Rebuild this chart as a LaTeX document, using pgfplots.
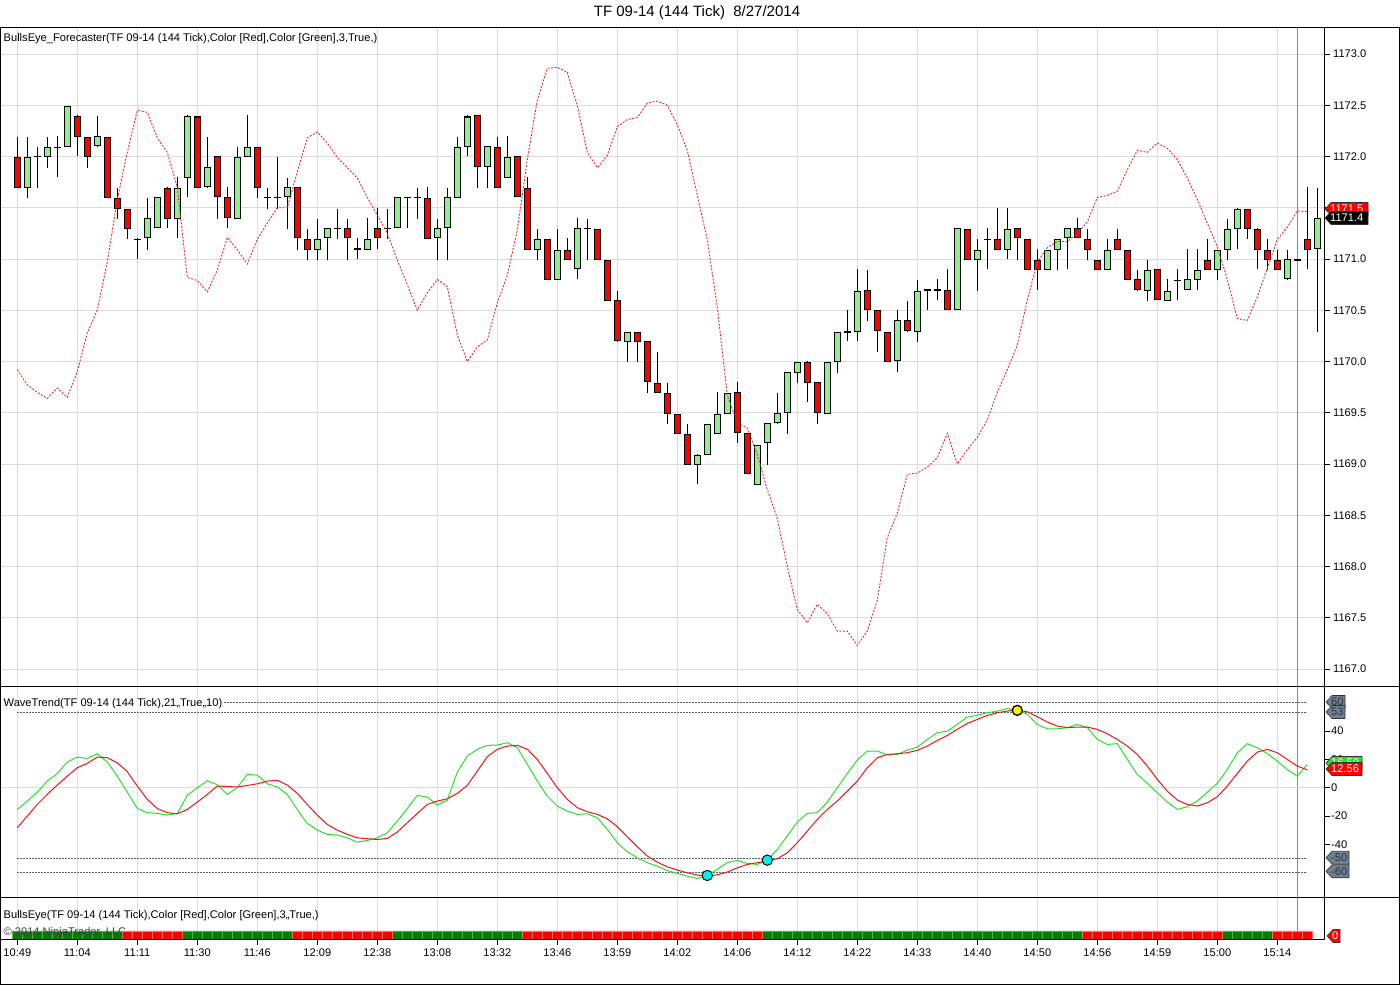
\documentclass[border=0pt]{standalone}
\usepackage{pgfplots}
\pgfplotsset{compat=1.18}
\usepackage{pgfplotstable}
\usepackage{fontspec}
\setmainfont{Liberation Sans}
\definecolor{cUp}{RGB}{144,238,144}
\definecolor{cDn}{RGB}{255,0,0}
\definecolor{gridc}{RGB}{220,220,220}
\definecolor{wtGreen}{RGB}{40,225,40}
\definecolor{wtRed}{RGB}{240,20,20}
\definecolor{fcRed}{RGB}{235,40,40}
\definecolor{lvl}{RGB}{90,95,105}
\definecolor{tagGray}{RGB}{112,128,144}
\definecolor{tagText}{RGB}{40,48,58}
\definecolor{bbGreen}{RGB}{0,128,0}
\definecolor{dotCyan}{RGB}{0,238,238}
\newcommand\sm{\fontsize{11.1}{13}\selectfont}
\newcommand{\tagshape}[6]{%
  \filldraw[fill=#4, draw=black!80, line width=0.6pt] (#1,#3) -- (#1+6,#3+6.5) -- (#2,#3+6.5) -- (#2,#3-6.5) -- (#1+6,#3-6.5) -- cycle;
  \node[anchor=west, inner sep=0pt, text=#5, font=\sm] at (#1+5,#3) {#6};}

\pgfplotstableread{
i o h l c
0 1172.0 1172.2 1171.7 1171.7
1 1171.7 1172.2 1171.6 1172.0
2 1172.0 1172.1 1171.7 1172.0
3 1172.0 1172.2 1171.9 1172.1
4 1172.1 1172.2 1171.8 1172.1
5 1172.1 1172.5 1172.1 1172.5
6 1172.4 1172.4 1172.0 1172.2
7 1172.2 1172.2 1171.9 1172.0
8 1172.1 1172.4 1172.1 1172.2
9 1172.2 1172.2 1171.6 1171.6
10 1171.6 1171.7 1171.4 1171.5
11 1171.5 1171.5 1171.2 1171.3
12 1171.2 1171.2 1171.0 1171.2
13 1171.2 1171.6 1171.1 1171.4
14 1171.3 1171.6 1171.3 1171.6
15 1171.7 1171.7 1171.3 1171.4
16 1171.4 1171.8 1171.2 1171.7
17 1171.8 1172.4 1171.6 1172.4
18 1172.4 1172.4 1171.7 1171.7
19 1171.7 1172.2 1171.7 1171.9
20 1172.0 1172.0 1171.4 1171.6
21 1171.6 1171.7 1171.3 1171.4
22 1171.4 1172.1 1171.4 1172.0
23 1172.0 1172.4 1172.0 1172.1
24 1172.1 1172.1 1171.6 1171.7
25 1171.6 1171.7 1171.5 1171.6
26 1171.6 1172.0 1171.5 1171.6
27 1171.6 1171.8 1171.3 1171.7
28 1171.7 1171.7 1171.1 1171.2
29 1171.2 1171.3 1171.0 1171.1
30 1171.1 1171.4 1171.0 1171.2
31 1171.2 1171.3 1171.0 1171.3
32 1171.3 1171.5 1171.2 1171.3
33 1171.3 1171.4 1171.0 1171.2
34 1171.1 1171.2 1171.0 1171.1
35 1171.1 1171.4 1171.1 1171.2
36 1171.3 1171.5 1171.1 1171.2
37 1171.3 1171.5 1171.2 1171.3
38 1171.3 1171.6 1171.3 1171.6
39 1171.6 1171.6 1171.3 1171.6
40 1171.6 1171.7 1171.4 1171.6
41 1171.6 1171.7 1171.2 1171.2
42 1171.2 1171.4 1171.0 1171.3
43 1171.3 1171.7 1171.0 1171.6
44 1171.6 1172.2 1171.6 1172.1
45 1172.1 1172.4 1172.0 1172.4
46 1172.4 1172.4 1171.7 1171.9
47 1171.9 1172.1 1171.7 1172.1
48 1172.1 1172.2 1171.7 1171.7
49 1171.8 1172.2 1171.8 1172.0
50 1172.0 1172.0 1171.6 1171.6
51 1171.7 1171.8 1171.1 1171.1
52 1171.1 1171.3 1171.0 1171.2
53 1171.2 1171.2 1170.8 1170.8
54 1170.8 1171.3 1170.8 1171.1
55 1171.1 1171.2 1171.0 1171.0
56 1170.9 1171.4 1170.8 1171.3
57 1171.3 1171.4 1171.0 1171.3
58 1171.3 1171.3 1171.0 1171.0
59 1171.0 1171.0 1170.6 1170.6
60 1170.6 1170.7 1170.2 1170.2
61 1170.2 1170.3 1170.0 1170.3
62 1170.3 1170.3 1170.0 1170.2
63 1170.2 1170.2 1169.7 1169.8
64 1169.8 1170.1 1169.7 1169.7
65 1169.7 1169.8 1169.4 1169.5
66 1169.5 1169.5 1169.3 1169.3
67 1169.3 1169.4 1169.0 1169.0
68 1169.0 1169.1 1168.8 1169.1
69 1169.1 1169.4 1169.1 1169.4
70 1169.3 1169.7 1169.3 1169.5
71 1169.5 1169.7 1169.5 1169.7
72 1169.7 1169.8 1169.2 1169.3
73 1169.3 1169.3 1168.9 1168.9
74 1168.8 1169.2 1168.8 1169.2
75 1169.2 1169.4 1169.0 1169.4
76 1169.4 1169.7 1169.4 1169.5
77 1169.5 1169.9 1169.3 1169.9
78 1169.9 1170.0 1169.8 1170.0
79 1170.0 1170.0 1169.6 1169.8
80 1169.8 1169.8 1169.4 1169.5
81 1169.5 1170.0 1169.5 1170.0
82 1170.0 1170.3 1169.9 1170.3
83 1170.3 1170.5 1170.2 1170.3
84 1170.3 1170.9 1170.2 1170.7
85 1170.7 1170.9 1170.4 1170.5
86 1170.5 1170.5 1170.1 1170.3
87 1170.3 1170.3 1170.0 1170.0
88 1170.0 1170.5 1169.9 1170.4
89 1170.4 1170.6 1170.3 1170.3
90 1170.3 1170.8 1170.2 1170.7
91 1170.7 1170.7 1170.5 1170.7
92 1170.7 1170.8 1170.6 1170.7
93 1170.7 1170.9 1170.5 1170.5
94 1170.5 1171.3 1170.5 1171.3
95 1171.3 1171.3 1171.0 1171.0
96 1171.0 1171.2 1170.7 1171.1
97 1171.2 1171.3 1170.9 1171.2
98 1171.2 1171.5 1171.1 1171.1
99 1171.1 1171.5 1171.0 1171.3
100 1171.3 1171.3 1171.0 1171.2
101 1171.2 1171.2 1170.9 1170.9
102 1171.0 1171.1 1170.7 1170.9
103 1170.9 1171.1 1170.9 1171.1
104 1171.1 1171.2 1170.9 1171.2
105 1171.2 1171.3 1170.9 1171.3
106 1171.3 1171.4 1171.2 1171.2
107 1171.2 1171.3 1171.0 1171.1
108 1171.0 1171.0 1170.9 1170.9
109 1170.9 1171.2 1170.9 1171.1
110 1171.2 1171.3 1171.1 1171.1
111 1171.1 1171.1 1170.8 1170.8
112 1170.8 1170.9 1170.7 1170.7
113 1170.7 1171.0 1170.6 1170.9
114 1170.9 1170.9 1170.6 1170.6
115 1170.6 1170.8 1170.6 1170.7
116 1170.8 1170.9 1170.6 1170.8
117 1170.7 1171.1 1170.7 1170.8
118 1170.8 1171.1 1170.7 1170.9
119 1171.0 1171.2 1170.9 1170.9
120 1170.9 1171.1 1170.8 1171.1
121 1171.1 1171.4 1171.0 1171.3
122 1171.3 1171.5 1171.1 1171.5
123 1171.5 1171.5 1171.2 1171.3
124 1171.3 1171.3 1170.9 1171.1
125 1171.1 1171.2 1170.9 1171.0
126 1171.0 1171.1 1170.9 1170.9
127 1170.8 1171.1 1170.8 1171.0
128 1171.0 1171.0 1171.0 1171.0
129 1171.2 1171.7 1170.9 1171.1
130 1171.1 1171.7 1170.3 1171.4
}\candles

\pgfplotstableread{
i f
0 1169.92
1 1169.77
2 1169.70
3 1169.64
4 1169.74
5 1169.65
6 1169.90
7 1170.28
8 1170.50
9 1170.97
10 1171.58
11 1172.04
12 1172.45
13 1172.43
14 1172.18
15 1172.04
16 1171.70
17 1170.82
18 1170.79
19 1170.68
20 1170.89
21 1171.21
22 1171.09
23 1170.95
24 1171.19
25 1171.35
26 1171.50
27 1171.50
28 1171.85
29 1172.18
30 1172.24
31 1172.13
32 1171.99
33 1171.89
34 1171.79
35 1171.60
36 1171.43
37 1171.25
38 1170.99
39 1170.75
40 1170.50
41 1170.67
42 1170.80
43 1170.73
44 1170.26
45 1170.00
46 1170.14
47 1170.21
48 1170.57
49 1170.84
50 1171.28
51 1171.97
52 1172.55
53 1172.86
54 1172.87
55 1172.82
56 1172.50
57 1172.04
58 1171.89
59 1172.01
60 1172.29
61 1172.36
62 1172.38
63 1172.52
64 1172.54
65 1172.50
66 1172.31
67 1172.06
68 1171.62
69 1171.19
70 1170.53
71 1169.67
72 1169.40
73 1169.35
74 1169.09
75 1168.75
76 1168.47
77 1168.00
78 1167.58
79 1167.45
80 1167.63
81 1167.54
82 1167.37
83 1167.37
84 1167.23
85 1167.37
86 1167.67
87 1168.28
88 1168.52
89 1168.90
90 1168.91
91 1168.97
92 1169.06
93 1169.30
94 1169.00
95 1169.14
96 1169.26
97 1169.43
98 1169.70
99 1169.92
100 1170.16
101 1170.60
102 1170.97
103 1171.11
104 1171.17
105 1171.17
106 1171.25
107 1171.36
108 1171.60
109 1171.62
110 1171.66
111 1171.87
112 1172.06
113 1172.04
114 1172.13
115 1172.08
116 1171.97
117 1171.79
118 1171.58
119 1171.35
120 1171.12
121 1170.80
122 1170.42
123 1170.40
124 1170.63
125 1170.91
126 1171.19
127 1171.31
128 1171.47
129 1171.46
}\fc

\pgfplotstableread{
i g r
0 -15.3 -28.2
1 -9.4 -20.0
2 -3.1 -11.8
3 4.7 -4.7
4 10.1 1.9
5 18.1 8.2
6 21.6 14.1
7 20.7 17.2
8 24.0 21.6
9 18.1 21.2
10 8.2 17.6
11 -3.1 11.3
12 -14.6 1.2
13 -17.6 -8.2
14 -18.1 -14.6
15 -19.3 -17.6
16 -18.1 -18.4
17 -5.4 -15.3
18 0.0 -10.1
19 4.9 -4.7
20 2.1 1.2
21 -4.7 0.9
22 0.0 0.5
23 9.4 1.6
24 8.9 2.8
25 2.8 4.7
26 0.5 5.2
27 -4.7 1.9
28 -15.3 -4.0
29 -25.2 -11.8
30 -29.9 -19.3
31 -32.9 -25.9
32 -33.4 -29.9
33 -35.3 -32.9
34 -38.4 -35.3
35 -37.2 -36.0
36 -35.3 -36.5
37 -31.8 -35.8
38 -23.5 -31.3
39 -14.6 -24.7
40 -5.4 -18.1
41 -6.6 -11.8
42 -12.2 -9.4
43 -8.7 -7.8
44 11.0 -4.0
45 22.4 1.6
46 27.1 11.8
47 29.9 21.9
48 30.1 27.1
49 31.8 29.4
50 28.2 29.9
51 16.5 27.1
52 4.7 20.0
53 -5.9 10.1
54 -12.9 0.0
55 -16.5 -8.2
56 -18.8 -14.1
57 -18.4 -16.9
58 -21.2 -18.8
59 -29.4 -21.9
60 -38.8 -27.5
61 -45.2 -34.6
62 -49.4 -41.6
63 -52.9 -48.2
64 -55.3 -52.5
65 -58.4 -55.8
66 -60.5 -58.1
67 -62.4 -60.0
68 -64.0 -61.6
69 -61.9 -62.4
70 -57.6 -61.4
71 -52.9 -59.5
72 -51.3 -56.5
73 -53.4 -54.1
74 -54.1 -52.9
75 -51.1 -51.8
76 -43.5 -50.1
77 -34.1 -45.9
78 -24.2 -38.8
79 -18.1 -30.6
80 -17.6 -22.4
81 -10.1 -15.3
82 0.0 -9.4
83 10.1 -2.4
84 19.5 4.7
85 25.9 14.1
86 25.9 21.2
87 23.1 23.5
88 23.5 24.0
89 26.5 24.7
90 28.7 26.4
91 34.1 29.4
92 38.8 33.4
93 40.0 36.9
94 44.7 41.2
95 49.9 45.4
96 51.1 48.2
97 52.9 51.1
98 54.1 52.9
99 55.8 54.1
100 54.6 54.8
101 51.8 53.6
102 44.7 50.1
103 41.6 46.4
104 41.6 43.5
105 42.4 42.4
106 44.7 42.8
107 42.4 42.8
108 34.1 41.2
109 30.6 38.1
110 31.1 34.1
111 20.0 29.4
112 9.4 23.5
113 3.1 15.3
114 -3.5 5.9
115 -10.1 -2.4
116 -15.3 -8.7
117 -13.4 -11.8
118 -9.4 -12.9
119 -3.1 -10.6
120 3.1 -6.4
121 12.9 1.2
122 24.7 10.1
123 31.1 18.8
124 28.2 25.2
125 24.2 27.1
126 18.8 24.7
127 12.9 20.0
128 8.2 15.3
129 16.5 12.56
}\wt

\pgfplotsset{
  chartx/.style={
    scale only axis, width=1323.5pt,
    xmin=-1.68, xmax=130.67,
    xtick={0,6,...,126}, xmajorgrids,
    grid style={draw=gridc, line width=0.8pt},
    extra x ticks={128}, extra x tick labels={},
    extra x tick style={grid style={draw=black!45, line width=0.8pt}, major tick length=0pt},
    axis line style={black, line width=0.8pt},
    tick style={black, line width=0.8pt},
    tick align=outside, major tick length=6pt,
  },
  candle/.style 2 args={draw=none, mark=none, forget plot,
    error bars/.cd, y dir=both, y explicit, error mark=none,
    error bar style={solid, draw=#1, line width=#2}, /pgfplots/.cd},
}

\begin{document}
\begin{tikzpicture}[x=1pt,y=1pt]
\useasboundingbox (0pt,0pt) rectangle (1400pt,985pt);
\fill[white] (0pt,0pt) rectangle (1400pt,985pt);

% ---------------- price panel
\begin{axis}[chartx,
  at={(0.5pt,299pt)}, anchor=south west, height=659pt,
  ymin=1166.834, ymax=1173.263,
  xticklabels={}, xtick style={draw=none},
  ytick={1167,1167.5,1168,1168.5,1169,1169.5,1170,1170.5,1171,1171.5,1172,1172.5,1173},
  ytick pos=right, yticklabel pos=right, ymajorgrids,
  yticklabel style={anchor=west, inner sep=0pt, xshift=3pt, font=\sm,
    /pgf/number format/fixed, /pgf/number format/fixed zerofill,
    /pgf/number format/precision=1, /pgf/number format/1000 sep={},
    /pgf/number format/assume math mode=true},
]
\addplot[candle={black}{1pt}]
  table[x=i, y expr={(\thisrow{h}+\thisrow{l})/2}, y error expr={(\thisrow{h}-\thisrow{l})/2}] {\candles};
\addplot[candle={black}{7pt}]
  table[x=i, y expr={(\thisrow{o}+\thisrow{c})/2}, y error expr={max(abs(\thisrow{o}-\thisrow{c})/2,0.005)}] {\candles};
\addplot[candle={cUp}{5pt}, restrict expr to domain={\thisrow{c}-\thisrow{o}}{0.05:5}]
  table[x=i, y expr={(\thisrow{o}+\thisrow{c})/2}, y error expr={abs(\thisrow{o}-\thisrow{c})/2-0.0098}] {\candles};
\addplot[candle={cDn}{5pt}, restrict expr to domain={\thisrow{o}-\thisrow{c}}{0.05:5}]
  table[x=i, y expr={(\thisrow{o}+\thisrow{c})/2}, y error expr={abs(\thisrow{o}-\thisrow{c})/2-0.0098}] {\candles};
\addplot[fcRed, line width=0.9pt, dash pattern=on 2pt off 1.5pt, mark=none] table[x=i, y=f] {\fc};
\end{axis}

% ---------------- WaveTrend panel
\begin{axis}[chartx,
  at={(0.5pt,88pt)}, anchor=south west, height=211pt,
  ymin=-77.1, ymax=71.8,
  xticklabels={}, xtick style={draw=none},
  ytick={-40,-20,0,20,40}, ytick pos=right, yticklabel pos=right,
  yticklabel style={anchor=west, inner sep=0pt, xshift=1pt, font=\sm,
    /pgf/number format/assume math mode=true},
]
\draw[gridc, line width=0.8pt] (axis cs:-1.68,0) -- (axis cs:130.67,0);
\addplot[lvl, line width=0.8pt, dash pattern=on 2pt off 1pt, mark=none] coordinates {(0,60) (129,60)};
\addplot[lvl, line width=0.8pt, dash pattern=on 2pt off 1pt, mark=none] coordinates {(0,53) (129,53)};
\addplot[lvl, line width=0.8pt, dash pattern=on 2pt off 1pt, mark=none] coordinates {(0,-50) (129,-50)};
\addplot[lvl, line width=0.8pt, dash pattern=on 2pt off 1pt, mark=none] coordinates {(0,-60) (129,-60)};
\addplot[wtGreen, line width=1pt, mark=none] table[x=i, y=g] {\wt};
\addplot[wtRed, line width=1pt, mark=none] table[x=i, y=r] {\wt};
\addplot[only marks, mark=*, mark size=5.2pt, mark options={fill=dotCyan, draw=black, line width=0.9pt}] coordinates {(69,-61.9) (75,-51.1)};
\addplot[only marks, mark=*, mark size=5pt, mark options={fill=yellow, draw=black, line width=1.3pt}] coordinates {(100,54.6)};
\end{axis}

% ---------------- BullsEye panel
\begin{axis}[chartx,
  at={(0.5pt,46pt)}, anchor=south west, height=42pt,
  ymin=0, ymax=5.25, ytick=\empty,
  xtick pos=left,
  xticklabels={10:49,11:04,11:11,11:30,11:46,12:09,12:38,13:08,13:32,13:46,13:59,14:02,14:06,14:12,14:22,14:33,14:40,14:50,14:56,14:59,15:00,15:14},
  xticklabel style={font=\sm, yshift=0pt},
]
\addplot[ybar, bar width=1, bar shift=0pt, fill=bbGreen, draw=bbGreen!65!white, line width=0.6pt] coordinates {
(0,1) (1,1) (2,1) (3,1) (4,1) (5,1) (6,1) (7,1) (8,1) (9,1) (10,1)
(17,1) (18,1) (19,1) (20,1) (21,1) (22,1) (23,1) (24,1) (25,1) (26,1) (27,1)
(38,1) (39,1) (40,1) (41,1) (42,1) (43,1) (44,1) (45,1) (46,1) (47,1) (48,1) (49,1) (50,1)
(75,1) (76,1) (77,1) (78,1) (79,1) (80,1) (81,1) (82,1) (83,1) (84,1) (85,1) (86,1) (87,1) (88,1) (89,1) (90,1)
(91,1) (92,1) (93,1) (94,1) (95,1) (96,1) (97,1) (98,1) (99,1) (100,1) (101,1) (102,1) (103,1) (104,1) (105,1) (106,1)
(121,1) (122,1) (123,1) (124,1) (125,1)};
\addplot[ybar, bar width=1, bar shift=0pt, fill=red, draw=red!55!white, line width=0.6pt] coordinates {
(11,1) (12,1) (13,1) (14,1) (15,1) (16,1)
(28,1) (29,1) (30,1) (31,1) (32,1) (33,1) (34,1) (35,1) (36,1) (37,1)
(51,1) (52,1) (53,1) (54,1) (55,1) (56,1) (57,1) (58,1) (59,1) (60,1) (61,1) (62,1) (63,1) (64,1) (65,1) (66,1)
(67,1) (68,1) (69,1) (70,1) (71,1) (72,1) (73,1) (74,1)
(107,1) (108,1) (109,1) (110,1) (111,1) (112,1) (113,1) (114,1) (115,1) (116,1) (117,1) (118,1) (119,1) (120,1)
(126,1) (127,1) (128,1) (129,1)};
\end{axis}

% ---------------- frames
\draw[black, line width=0.8pt] (0.5,1) rectangle (1399.5,958);
\draw[black, line width=0.8pt] (0.5,299) -- (1399.5,299);
\draw[black, line width=0.8pt] (0.5,88) -- (1399.5,88);

% ---------------- texts
\node[font=\fontsize{15}{18}\selectfont] at (697,972) {TF 09-14 (144 Tick)\ \ 8/27/2014};
\node[anchor=base west, inner sep=0.5pt, font=\sm] at (3,943) {BullsEye\_Forecaster(TF 09-14 (144 Tick),Color [Red],Color [Green],3,True,)};
\node[anchor=base west, inner sep=0.5pt, fill=white, font=\sm] at (3,278) {WaveTrend(TF 09-14 (144 Tick),21,,True,,10)};
\node[anchor=base west, inner sep=0.5pt, font=\sm] at (3,66) {BullsEye(TF 09-14 (144 Tick),Color [Red],Color [Green],3,,True,)};
\node[anchor=base west, inner sep=0.5pt, font=\sm, text=black!75] at (3,49) {© 2014 NinjaTrader, LLC};

% ---------------- value tags
\tagshape{1325}{1368}{776}{red}{white}{1171.5}
\tagshape{1325}{1368}{767}{black}{white}{1171.4}
\tagshape{1326}{1345}{283}{tagGray}{tagText}{60}
\tagshape{1326}{1345}{273}{tagGray}{tagText}{53}
\tagshape{1326}{1349}{127.3}{tagGray}{tagText}{-50}
\tagshape{1326}{1349}{113.7}{tagGray}{tagText}{-60}
\tagshape{1326}{1362}{222}{wtGreen}{white}{16.50}
\tagshape{1326}{1362}{216}{red}{white}{12.56}
\tagshape{1327}{1340}{49}{red}{white}{0}
\end{tikzpicture}
\end{document}
